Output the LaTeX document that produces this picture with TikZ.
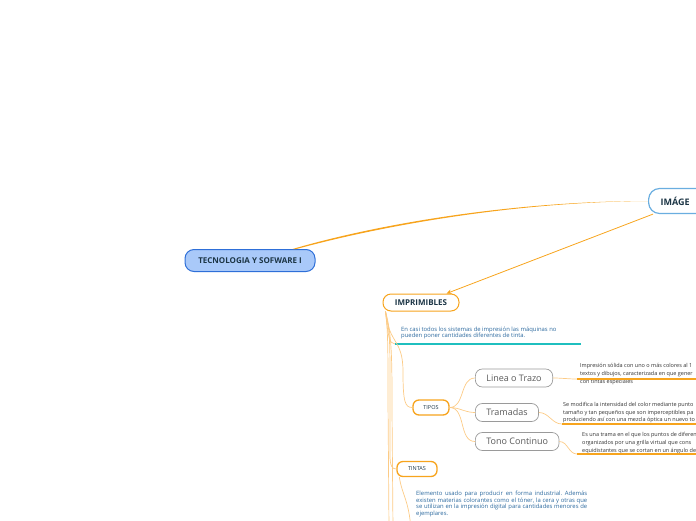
\documentclass[tikz,border=0pt]{standalone}
\usepackage{fontspec}
\setmainfont{Open Sans}
\usetikzlibrary{positioning, arrows.meta}

\definecolor{mmorange}{HTML}{F7A41D}
\definecolor{mmlight}{HTML}{FCCB86}
\definecolor{mmblue}{HTML}{2E6FD8}
\definecolor{mmsky}{HTML}{A9C9F9}
\definecolor{mmedge}{HTML}{6AAEE0}
\definecolor{mmink}{HTML}{1C3545}
\definecolor{mmtext}{HTML}{2D6A9F}
\definecolor{mmteal}{HTML}{1FBFBF}
\definecolor{mmgray}{HTML}{9A9A9A}

\begin{document}
\frenchspacing
\begin{tikzpicture}[x=1pt, y=-1pt,
    root/.style={draw=mmedge, line width=1.2pt, fill=white, rounded corners=11pt, minimum height=25pt, text width=60pt, inner xsep=12pt, align=left, font=\fontsize{9}{11}\selectfont\bfseries, text=mmink},
    main/.style={draw=mmblue, line width=1pt, fill=mmsky, rounded corners=9pt, minimum height=22pt, minimum width=130pt, font=\fontsize{8}{10}\selectfont\bfseries, text=mmink},
    topic/.style={draw=mmorange, line width=1pt, fill=white, rounded corners=8pt, minimum height=17pt, minimum width=76pt, font=\fontsize{8}{10}\selectfont\bfseries, text=mmink},
    sub/.style={draw=mmorange, line width=1.3pt, fill=white, rounded corners=6pt, minimum height=15pt, inner sep=0pt, font=\fontsize{5.5}{7}\selectfont, text=mmink},
    kind/.style={draw=mmgray, line width=0.7pt, fill=white, rounded corners=7pt, minimum height=18pt, inner ysep=0pt, inner xsep=11pt, font=\fontsize{9}{11}\selectfont, text=black!65},
    note/.style={inner sep=0pt, anchor=north west, font=\fontsize{5.9}{6.6}\selectfont, text=mmtext},
    info/.style={align=left, inner sep=0pt, anchor=north west, font=\fontsize{5.5}{7.7}\selectfont, text=black!80},
    link/.style={draw=mmlight, line width=0.7pt},
    bar/.style={draw=mmorange, line width=1.6pt},
]

\clip (0,0) rectangle (696,520);

% main nodes
\node[root, anchor=west] (img) at (648,201) {IMÁGE};
\node[main] (tec) at (250,260.5) {TECNOLOGIA Y SOFWARE I};
\node[topic] (impr) at (421,302.5) {IMPRIMIBLES};

% branch under IMPRIMIBLES
\node[note, align=left] (casi) at (401,326.5) {En casi todos los sistemas de impresión las máquinas no\\pueden poner cantidades diferentes de tinta.};
\coordinate (casiline) at (395,344);
\node[sub, minimum width=36pt] (tipos) at (431,407.5) {TIPOS};
\node[sub, minimum width=40pt] (tintas) at (417,469) {TINTAS};
\node[note, align=justify, text width=171pt] (elem) at (416,491) {Elemento usado para producir en forma industrial. Además\linebreak existen materias colorantes como el tóner, la cera y otras que\linebreak se utilizan en la impresión digital para cantidades menores de\linebreak ejemplares.};

% TIPOS children
\node[kind, anchor=west] (linea) at (475,378) {Linea o Trazo};
\node[kind, anchor=west] (trama) at (475,412.5) {Tramadas};
\node[kind, anchor=west] (tono) at (475,441.5) {Tono Continuo};

\node[info] (lineatxt) at (580,363.5) {Impresión sólida con uno o más colores al 1\\textos y dibujos, caracterizada en que gener\\con tintas especiales};
\node[info] (trametxt) at (563,402) {Se modifica la intensidad del color mediante punto\\tamaño y tan pequeños que son imperceptibles pa\\produciendo así con una mezcla óptica un nuevo to};
\node[info] (tonotxt) at (582,432.5) {Es una trama en el que los puntos de diferen\\organizados por una grilla virtual que cons\\equidistantes que se cortan en un ángulo de};

\coordinate (lineaul) at (577,379);
\coordinate (trameul) at (562,424);
\coordinate (tonoul) at (577,454);
\coordinate (more1) at (389,530);
\coordinate (more2) at (393,530);
\coordinate (elemul) at (411,530);

% connectors
\fill[mmorange] (img.west) .. controls (520,201) and (385,222) .. ([xshift=-23pt]tec.north east)
    -- ([xshift=-19pt]tec.north east) .. controls (388,224) and (520,201.8) .. (img.west);
\draw[mmorange, line width=0.8pt, -{Stealth[length=5pt, width=4.5pt]}] ([xshift=5pt]img.south west) -- ([xshift=-13pt]impr.north east);

\draw[link] ([xshift=3pt]impr.south west) .. controls (388,335) and (389,344) .. (casiline);
\draw[mmteal, line width=2pt] (casiline) -- (581,344);
\draw[link] ([xshift=3pt]impr.south west) .. controls (389,345) and (403,338) .. (403,372) .. controls (403,402) and (405,407.5) .. (tipos.west);
\draw[link] ([xshift=3pt]impr.south west) .. controls (390,330) and (390,345) .. (390,385) -- (390,455) .. controls (390,466) and (392,469) .. (tintas.west);
\draw[link] ([xshift=3pt]impr.south west) .. controls (388,330) and (388,350) .. (388,400) -- (more1);
\draw[link] ([xshift=3pt]impr.south west) .. controls (392,335) and (392,360) .. (392,410) -- (more2);
\draw[link] ([xshift=3pt]tintas.south west) .. controls (402,495) and (409,500) .. (elemul);

\path[link]
    (tipos.east) edge[out=0, in=180] (linea.west)
    (tipos.east) edge[out=0, in=180] (trama.west)
    (tipos.east) edge[out=0, in=180] (tono.west);

\draw[link] (linea.east) to[out=0, in=180] (lineaul);
\draw[link] (trama.east) to[out=0, in=180] (trameul);
\draw[link] (tono.east) to[out=0, in=180] (tonoul);
\draw[bar] (lineaul) -- ++(130,0);
\draw[bar] (trameul) -- ++(140,0);
\draw[bar] (tonoul) -- ++(130,0);

\end{tikzpicture}
\end{document}
